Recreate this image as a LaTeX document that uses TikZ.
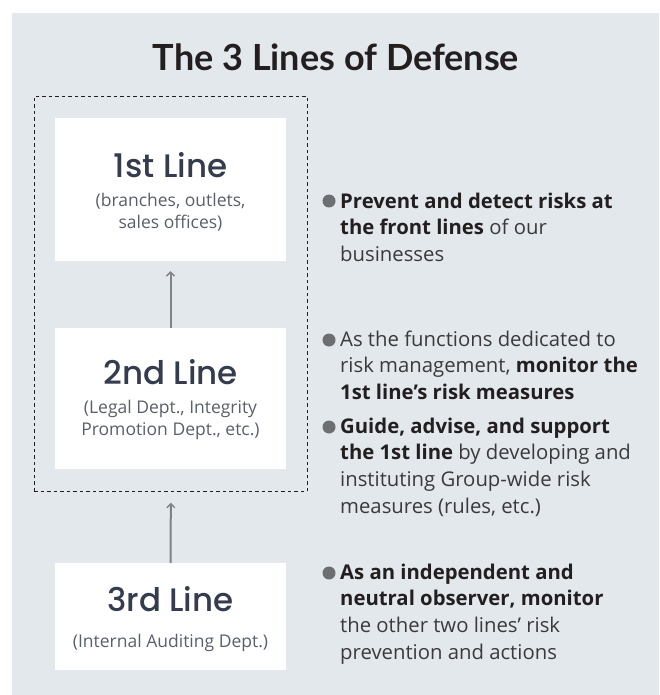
\documentclass[tikz,border=0pt]{standalone}
\usepackage{fontspec}
\setmainfont{Open Sans}
\newfontfamily\titlefont{Lato}
\IfFontExistsTF{Poppins-Medium}{\newfontfamily\linefont{Poppins-Medium}}{\newfontfamily\linefont{Poppins}[FakeBold=0.8]}
\usetikzlibrary{arrows.meta}
\definecolor{panel}{HTML}{E3E8EC}
\definecolor{ink}{HTML}{231F20}
\definecolor{slate}{HTML}{343C4E}
\definecolor{subgray}{HTML}{5A606B}
\definecolor{bodygray}{HTML}{3A3A3C}
\definecolor{dotgray}{HTML}{6D6E71}
\definecolor{arrowgray}{HTML}{808285}
\newcommand\subsize{\fontsize{17.5}{22}\selectfont}
\newcommand\bodysize{\fontsize{20.3}{26.8}\selectfont}
\begin{document}
\begin{tikzpicture}[x=1pt,y=-1pt,
  heading/.style={inner sep=0,anchor=base,text=ink,font=\titlefont\bfseries\fontsize{36}{42}\selectfont},
  linebox/.style={fill=white,minimum width=231pt,inner sep=0},
  linename/.style={inner sep=0,anchor=base,text=slate,font=\linefont\fontsize{32.5}{38}\selectfont},
  linesub/.style={inner sep=0,anchor=base,text=subgray,font=\subsize},
  dot/.style={circle,fill=dotgray,minimum size=13pt,inner sep=0},
  bullettext/.style={inner sep=0,anchor=base west,text=bodygray,font=\bodysize},
  uparrow/.style={draw=arrowgray,line width=2pt,-{Straight Barb[length=4pt,width=8pt,line width=1.4pt]}},
  groupframe/.style={draw=ink,line width=0.8pt,dash pattern=on 3.5pt off 3pt,inner sep=0,anchor=north west}
]
\useasboundingbox (0,0) rectangle (659,695);
\fill[panel] (12,13) rectangle (659,695);

% heading
\node[heading] (title) at (336,71) {The 3 Lines of Defense};

% dashed frame around the first two lines
\node[groupframe,minimum width=273pt,minimum height=395pt] (group) at (34,96) {};

% the three line boxes
\node[linebox,minimum height=143pt] (l1) at (170.5,189.5) {};
\node[linebox,minimum height=141pt] (l2) at (170.5,398.5) {};
\node[linebox,minimum height=107pt] (l3) at (170.5,616.5) {};

\node[linename] (l1name) at (170.5,177) {1st Line};
\node[linesub] (l1sub) at (170.5,206) {\parbox[t]{225pt}{\centering\subsize (branches, outlets,\\ sales offices)}};

\node[linename] (l2name) at (170.5,384) {2nd Line};
\node[linesub] (l2sub) at (170.5,413) {\parbox[t]{225pt}{\centering\subsize (Legal Dept., Integrity\\ Promotion Dept., etc.)}};

\node[linename] (l3name) at (170.5,611) {3rd Line};
\node[linesub] (l3sub) at (170.5,647) {(Internal Auditing Dept.)};

% reporting arrows
\draw[uparrow,shorten >=10pt] (l2.north) -- (l1.south);
\draw[uparrow,shorten >=11pt] (l3.north) -- (group.south);

% bullet points
\node[dot] (d1) at (329,201) {};
\node[bullettext] (t1) at (340,208) {\parbox[t]{315pt}{\raggedright\bodysize
  \textbf{\color{ink}Prevent and detect risks at}\\
  \textbf{\color{ink}the front lines} of our\\
  businesses}};

\node[dot] (d2) at (329,340) {};
\node[bullettext] (t2) at (340,346) {\parbox[t]{315pt}{\raggedright\bodysize
  As the functions dedicated to\\
  risk management, \textbf{\color{ink}monitor the}\\
  \textbf{\color{ink}1st line’s risk measures}}};

\node[dot] (d3) at (329,427) {};
\node[bullettext] (t3) at (340,433) {\parbox[t]{315pt}{\raggedright\bodysize
  \textbf{\color{ink}Guide, advise, and support}\\
  \textbf{\color{ink}the 1st line} by developing and\\
  instituting Group-wide risk\\
  measures (rules, etc.)}};

\node[dot] (d4) at (329,573) {};
\node[bullettext] (t4) at (340,579) {\parbox[t]{315pt}{\raggedright\bodysize
  \textbf{\color{ink}As an independent and}\\
  \textbf{\color{ink}neutral observer, monitor}\\
  the other two lines’ risk\\
  prevention and actions}};
\end{tikzpicture}
\end{document}
